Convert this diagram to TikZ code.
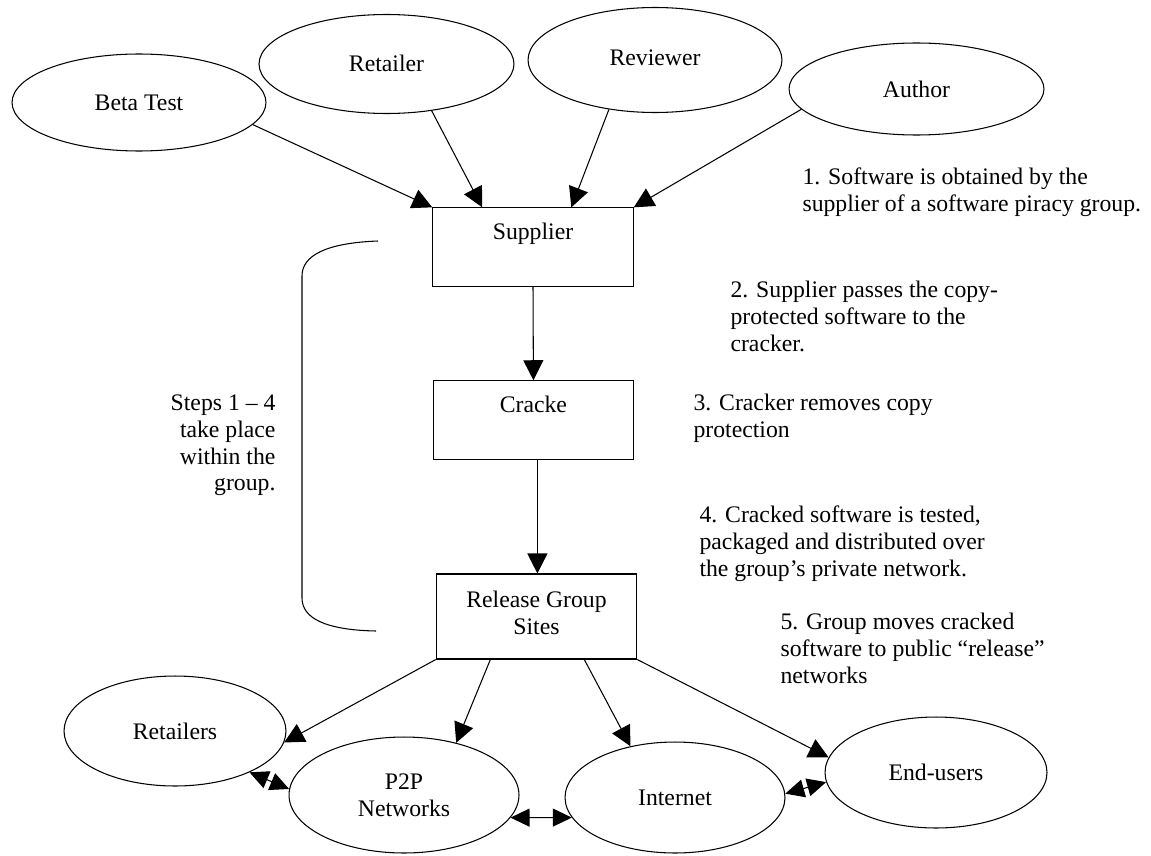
\documentclass[tikz,border=0pt]{standalone}
\usepackage{fontspec}
\setmainfont{Liberation Serif}
\usetikzlibrary{shapes.geometric,arrows.meta,calc}
\begin{document}
\begin{tikzpicture}[x=0.02cm,y=-0.02cm,
  font=\fontsize{13.5}{15.3}\selectfont,
  line width=0.6pt,
  ell/.style={draw, ellipse, inner sep=0pt},
  box/.style={draw, rectangle, minimum width=4.01cm, inner sep=0pt},
  boxtxt/.style={anchor=north, inner sep=0pt, align=center},
  arr/.style={-{Triangle[length=0.4cm,width=0.4cm]}},
  darr/.style={{Triangle[length=0.38cm,width=0.36cm]}-{Triangle[length=0.38cm,width=0.36cm]}},
  note/.style={inner sep=0pt, align=left, anchor=north west}
]
\useasboundingbox (0,0) rectangle (1151,855);

% sources
\node[ell, minimum width=5.08cm, minimum height=1.94cm] (beta) at (139,102.5) {Beta Test};
\node[ell, minimum width=5.1cm, minimum height=1.98cm] (ret) at (386.5,64) {\raisebox{1pt}{Retailer}};
\node[ell, minimum width=5.08cm, minimum height=2.1cm] (rev) at (655,60) {\raisebox{3pt}{Reviewer}};
\node[ell, minimum width=5.1cm, minimum height=1.84cm] (aut) at (916.5,89) {Author};

% group boxes
\node[box, minimum height=1.566cm, label={[boxtxt,yshift=-0.3cm]north:Supplier}] (sup) at (533,247) {};
\node[box, minimum height=1.57cm, label={[boxtxt,yshift=-0.3cm]north:Cracke}] (cra) at (533.4,420) {};
\node[box, minimum height=1.7cm, label={[boxtxt,yshift=-0.34cm]north:Release Group\\Sites}] (rel) at (536.5,616.5) {};

% destinations
\node[ell, minimum width=4.44cm, minimum height=2.2cm] (rets) at (175,731) {Retailers};
\node[ell, minimum width=4.6cm, minimum height=2.32cm, align=center] (p2p) at (404,795) {P2P\\Networks};
\node[ell, minimum width=4.4cm, minimum height=2.22cm] (int) at (675,797.5) {Internet};
\node[ell, minimum width=4.44cm, minimum height=2.22cm] (end) at (936,772.5) {End-users};

% arrows into supplier
\draw[arr] (beta.-11) -- (sup.north west);
\draw[arr] (ret.-46) -- (sup.142);
\draw[arr] (rev.-133) -- (sup.46.5);
\draw[arr] (aut.190) -- (sup.north east);

% chain
\draw[arr] (sup.south) -- (cra.north);
\draw[arr] ([xshift=0.08cm]cra.south) -- ([xshift=0.08cm]cra.south |- rel.north);

% release
\draw[arr] (rel.south west) -- (rets.-6);
\draw[arr] (rel.-137.6) -- (p2p.45.6);
\draw[arr] (rel.-42.4) -- (int.131.7);
\draw[arr] (rel.south east) -- (end.172);

% double arrows
\draw[darr] (rets.-29.3) -- (p2p.177.4);
\draw[darr] (p2p.-12.2) -- (int.191);
\draw[darr] (int.2.3) -- (end.185);

% bracket
\draw (378,241) .. controls (325,243) and (302,256) .. (302,276) -- (302,598)
      .. controls (302,618) and (325,630) .. (376,631);

% notes
\node[note] (n1) at (802,167) {1. Software is obtained by the\\supplier of a software piracy group.};
\node[note] (n2) at (730,281) {2. Supplier passes the copy-\\protected software to the\\cracker.};
\node[note] (n3) at (693,394) {3. Cracker removes copy\\protection};
\node[note] (n4) at (699,505) {4. Cracked software is tested,\\packaged and distributed over\\the group’s private network.};
\node[note] (n5) at (780,613) {5. Group moves cracked\\software to public “release”\\networks};
\node[inner sep=0pt, align=right, anchor=north east] (steps) at (276,394) {Steps 1 – 4\\take place\\within the\\group.};
\end{tikzpicture}
\end{document}
